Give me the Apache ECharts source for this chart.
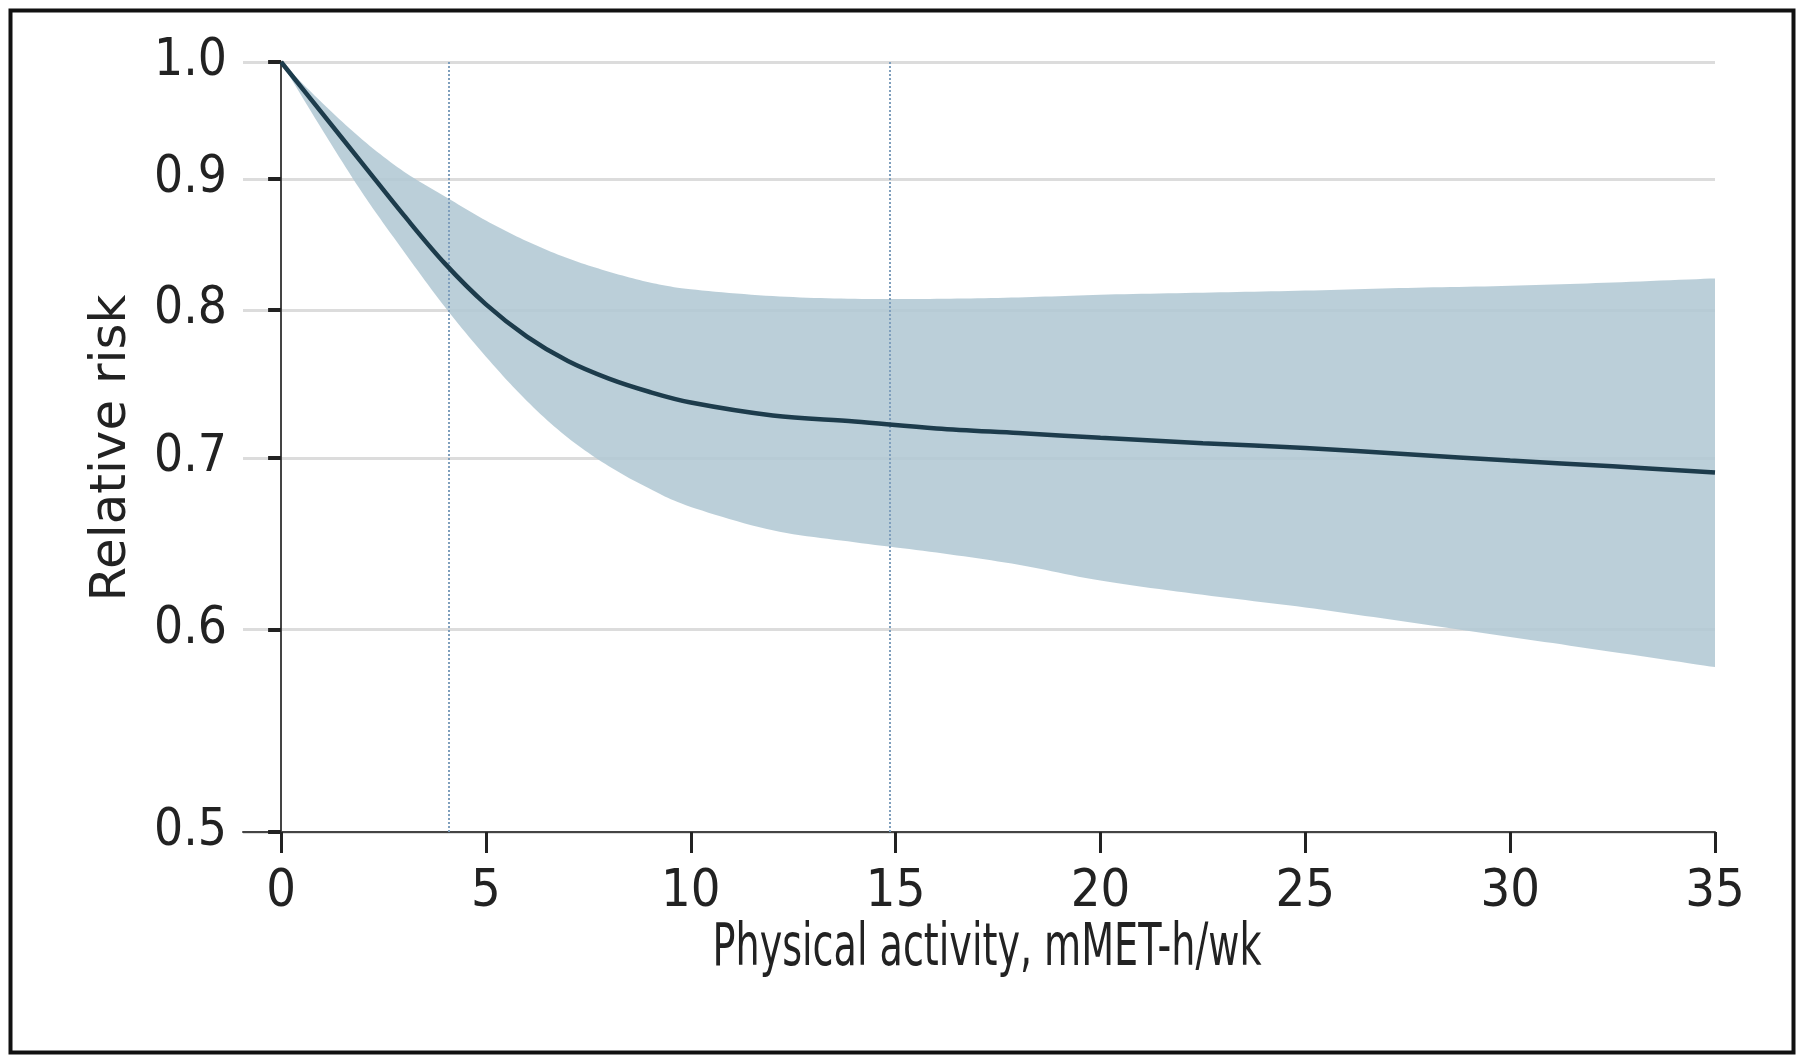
<!DOCTYPE html>
<html>
<head>
<meta charset="utf-8">
<script src="https://cdn.jsdelivr.net/npm/echarts@6/dist/echarts.min.js"></script>
<style>
html,body{margin:0;padding:0;background:#fff;}
#chart{width:1800px;height:1060px;}
</style>
</head>
<body>
<div id="chart"></div>
<script>
// ---- data ----
const activity = [0, 1, 2, 3, 4, 5, 6, 7, 8, 9, 10, 12, 14, 16, 18, 20, 22.5, 25, 27.5, 30, 32.5, 35];
const relativeRisk = [1.0, 0.955, 0.912, 0.871, 0.834, 0.804, 0.781, 0.764, 0.752, 0.743, 0.736, 0.7275, 0.7235, 0.719, 0.716, 0.713, 0.7095, 0.7065, 0.7025, 0.6985, 0.695, 0.691];
const upperCI = [1.0, 0.964, 0.932, 0.906, 0.886, 0.867, 0.851, 0.838, 0.828, 0.820, 0.815, 0.810, 0.808, 0.808, 0.809, 0.811, 0.8125, 0.814, 0.816, 0.8175, 0.820, 0.823];
const lowerCI = [1.0, 0.941, 0.888, 0.843, 0.802, 0.767, 0.737, 0.713, 0.695, 0.681, 0.670, 0.656, 0.649, 0.643, 0.636, 0.627, 0.619, 0.612, 0.604, 0.596, 0.588, 0.580];
const yTicks = [0.5, 0.6, 0.7, 0.8, 0.9, 1.0];
const xTicks = [0, 5, 10, 15, 20, 25, 30, 35];
const refLines = [4.1, 14.85];
const xTitle = 'Physical activity, mMET-h/wk';
const yTitle = 'Relative risk';

// log scale via transform (base value 0.5)
const T = v => Math.log(v / 0.5);
const bandData = activity.map((x, i) => [x, T(lowerCI[i]), T(upperCI[i])]);
const rrData = activity.map((x, i) => [x, T(relativeRisk[i])]);

const condensed = "'DejaVu Sans Condensed', 'DejaVu Sans', sans-serif";

// Catmull-Rom sampling of pixel points (rendering only)
function sampleCurve(pts) {
  const out = [];
  const n = pts.length;
  for (let i = 0; i < n - 1; i++) {
    const p0 = pts[Math.max(i - 1, 0)], p1 = pts[i], p2 = pts[i + 1], p3 = pts[Math.min(i + 2, n - 1)];
    const steps = 12;
    for (let s = 0; s < steps; s++) {
      const t = s / steps, t2 = t * t, t3 = t2 * t;
      const f = k => 0.5 * ((2 * p1[k]) + (-p0[k] + p2[k]) * t + (2 * p0[k] - 5 * p1[k] + 4 * p2[k] - p3[k]) * t2 + (-p0[k] + 3 * p1[k] - 3 * p2[k] + p3[k]) * t3);
      out.push([f(0), f(1)]);
    }
  }
  out.push(pts[n - 1]);
  return out;
}

const chart = echarts.init(document.getElementById('chart'));
chart.setOption({
  animation: false,
  backgroundColor: '#ffffff',
  grid: { left: 243, right: 85, top: 62, bottom: 228, containLabel: false },
  graphic: [
    {
      type: 'rect', left: 8, top: 8, silent: true,
      shape: { width: 1783, height: 1042 },
      style: { fill: 'none', stroke: '#111', lineWidth: 4 }
    },
    {
      type: 'text', x: 987, y: 950, scaleX: 0.73, silent: true,
      style: { text: xTitle, fontFamily: condensed, fontSize: 58, fill: '#222', align: 'center', verticalAlign: 'middle' }
    },
    {
      type: 'text', x: 112, y: 448, rotation: Math.PI / 2, silent: true,
      style: { text: yTitle, fontFamily: "'DejaVu Sans', sans-serif", fontSize: 50, fill: '#222', align: 'center', verticalAlign: 'middle' }
    }
  ],
  xAxis: {
    type: 'value', min: -0.93, max: 35,
    axisLine: { show: true, onZero: false, lineStyle: { color: '#444', width: 2 } },
    axisTick: { show: true, customValues: xTicks, length: 21, lineStyle: { color: '#222', width: 3 } },
    axisLabel: { customValues: xTicks, margin: 34, fontFamily: condensed, fontSize: 52, color: '#222' },
    splitLine: { show: false }
  },
  yAxis: {
    type: 'value', min: T(yTicks[0]), max: T(yTicks[yTicks.length - 1]),
    axisLine: { show: true, lineStyle: { color: '#444', width: 2 } },
    axisTick: { show: true, customValues: yTicks.map(T), length: 13, lineStyle: { color: '#222', width: 4 } },
    axisLabel: {
      customValues: yTicks.map(T), margin: 16, fontFamily: condensed, fontSize: 51, color: '#222',
      formatter: v => (0.5 * Math.exp(v)).toFixed(1)
    },
    splitLine: { show: true, lineStyle: { color: '#dcdcdc', width: 3 } }
  },
  series: [
    {
      name: '95% CI', type: 'custom', data: bandData, encode: { x: 0, y: [1, 2] },
      silent: true, z: 2,
      renderItem: function (params, api) {
        if (params.dataIndex !== 0) return null;
        const up = bandData.map(d => api.coord([d[0], d[2]]));
        const lo = bandData.map(d => api.coord([d[0], d[1]]));
        const pts = sampleCurve(up).concat(sampleCurve(lo).reverse());
        return {
          type: 'polygon',
          shape: { points: pts },
          style: { fill: 'rgba(177,200,211,0.87)' }
        };
      }
    },
    {
      name: 'Relative risk', type: 'line', data: rrData, smooth: 0.35, symbol: 'none',
      lineStyle: { color: '#1d3c4c', width: 4.5 }, z: 5,
      markLine: {
        silent: true, symbol: 'none', label: { show: false },
        lineStyle: { color: '#7f9fbd', width: 2, type: 'dotted' },
        data: refLines.map(v => ({ xAxis: v }))
      }
    }
  ]
});
</script>
</body>
</html>
